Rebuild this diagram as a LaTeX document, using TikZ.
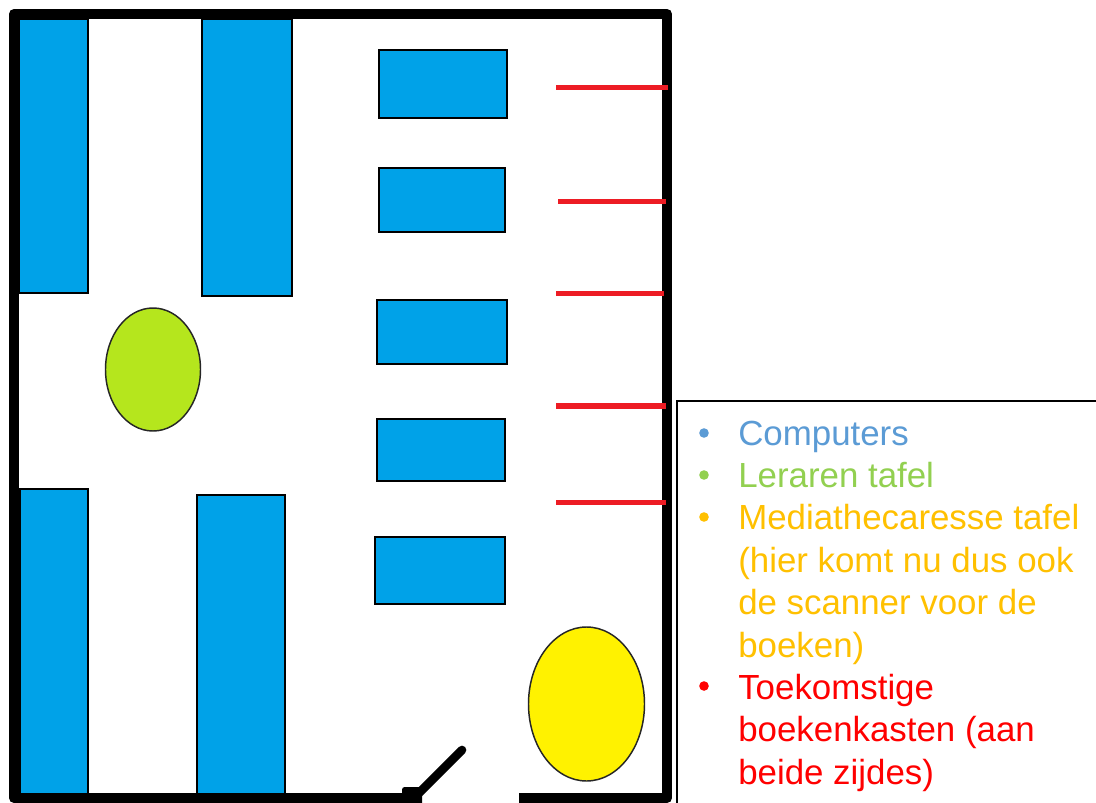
\documentclass[tikz,border=0pt]{standalone}
\usepackage{fontspec}
\setmainfont{Liberation Sans}
\definecolor{kast}{HTML}{00A2E8}
\definecolor{leraar}{HTML}{B5E61D}
\definecolor{balie}{HTML}{FFF200}
\definecolor{toekomst}{HTML}{ED1C24}
\definecolor{legblue}{HTML}{5B9BD5}
\definecolor{leggreen}{HTML}{92D050}
\definecolor{legorange}{HTML}{FFC000}
\definecolor{legred}{HTML}{FF0000}
\tikzset{
  shelf/.style={draw=black, line width=1.1pt, fill=kast},
  wall/.style={line width=7.5pt, line join=round},
  futureshelf/.style={draw=toekomst, line width=4.2pt},
  tafel/.style={draw=black!85, line width=1.1pt},
  legline/.style={anchor=base west, inner sep=0pt, font=\fontsize{26.15}{32}\selectfont},
}

\begin{document}
\begin{tikzpicture}[x=.75pt,y=-.75pt]
\useasboundingbox (0,0) rectangle (1096,803);
\fill[white] (0,0) rectangle (1096,803);

% kasten links
\draw[shelf] (19,19) rectangle (88,293);
\draw[shelf] (202,19) rectangle (292,296);
\draw[shelf] (20,489) rectangle (88,795);
\draw[shelf] (197,495) rectangle (285,795);

% computers
\draw[shelf] (379,50) rectangle (507,118);
\draw[shelf] (379,168) rectangle (505,232);
\draw[shelf] (377,300) rectangle (507,364);
\draw[shelf] (377,419) rectangle (505,481);
\draw[shelf] (375,537) rectangle (505,604);

% tafels
\draw[tafel, fill=leraar] (153,369.5) ellipse (47.5 and 61.5);
\draw[tafel, fill=balie] (586.5,704) ellipse (58 and 77);

% muren en deur
\draw[wall] (420,798) -- (14,798) -- (14,14) -- (667,14) -- (667,798) -- (519,798);
\fill[rounded corners=2pt] (402,787) rectangle (422,806);
\draw[line width=6.5pt, line cap=round] (414,798) -- (462,750);

% toekomstige kasten
\draw[futureshelf] (556,87.3) -- (668,87.3);
\draw[futureshelf] (558,201.3) -- (666,201.3);
\draw[futureshelf] (556,293.5) -- (663.5,293.5);
\draw[futureshelf] (556,405.7) -- (666,405.7);
\draw[futureshelf] (556,502.3) -- (666,502.3);

% legenda
\draw[line width=1.5pt, fill=white] (677,401) -- (1100,401) -- (1100,810) -- (677,810) -- cycle;
\fill[legblue] (704,433) circle (4.8);
\fill[leggreen] (704,475) circle (4.8);
\fill[legorange] (704,517) circle (4.8);
\fill[legred] (704,686) circle (4.8);
\node[legline, text=legblue] (comp) at (738,445) {Computers};
\node[legline, text=leggreen] (lera) at (738,487.5) {Leraren tafel};
\node[legline, text=legorange] (medA) at (738,529.5) {Mediathecaresse tafel};
\node[legline, text=legorange] (medB) at (738,572) {(hier komt nu dus ook};
\node[legline, text=legorange] (medC) at (738,614.5) {de scanner voor de};
\node[legline, text=legorange] (medD) at (738,657) {boeken)};
\node[legline, text=legred] (toeA) at (738,699) {Toekomstige};
\node[legline, text=legred] (toeB) at (738,741.5) {boekenkasten (aan};
\node[legline, text=legred] (toeC) at (738,784) {beide zijdes)};
\end{tikzpicture}
\end{document}
